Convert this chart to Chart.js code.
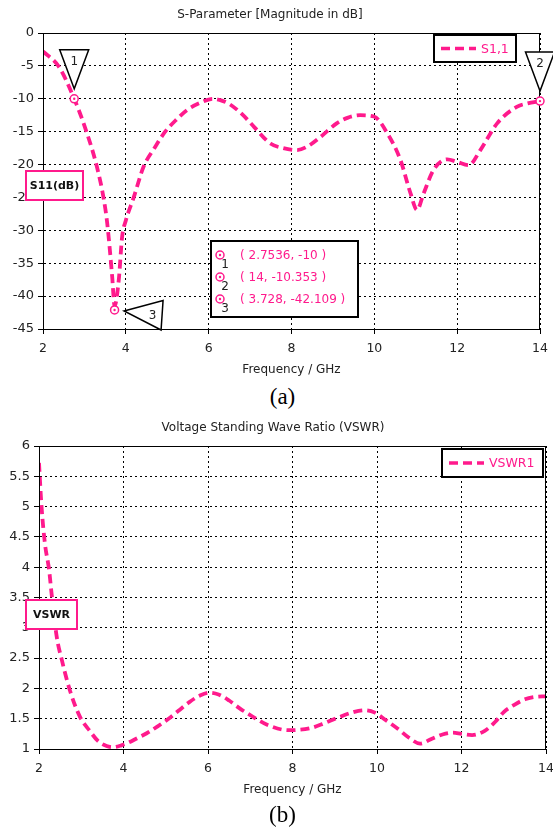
<!DOCTYPE html>
<html>
<head>
<meta charset="utf-8">
<script src="https://cdn.jsdelivr.net/npm/chart.js@4.4.0/dist/chart.umd.min.js"></script>
<style>
    body { margin: 0; background: #fff; width: 553px; height: 829px; position: relative; overflow: hidden; }
    canvas { position: absolute; left: 0; }
    #chartA { top: 0; }
    #chartB { top: 414px; }
    .cap { position: absolute; left: 0; width: 565px; text-align: center; font-family: "Liberation Serif", serif; font-size: 23px; color: #000; line-height: 1; }
</style>
</head>
<body>
<canvas id="chartA" width="553" height="382"></canvas>
<div class="cap" style="top:385px">(a)</div>
<canvas id="chartB" width="553" height="390"></canvas>
<div class="cap" style="top:803px">(b)</div>
<script>
// S11 curve (GHz, dB)
const s11Freq = [2.0, 2.38, 2.7536, 3.06, 3.3, 3.46, 3.55, 3.67, 3.728, 3.83, 3.91, 4.0, 4.19, 4.43, 4.7, 4.95, 5.2, 5.48, 5.8, 6.1, 6.28, 6.5, 6.8, 7.1, 7.49, 7.8, 8.13, 8.4, 8.7, 9.1, 9.35, 9.66, 9.99, 10.31, 10.63, 10.87, 11.03, 11.19, 11.43, 11.76, 12.0, 12.28, 12.56, 12.97, 13.45, 13.7, 14.0];
const s11Db = [-2.8, -5.1, -10, -15.2, -20.3, -25.0, -28.9, -37.0, -41.5, -37.5, -31, -28.5, -25, -20.3, -17.4, -15.0, -13.3, -11.7, -10.6, -10.0, -10.2, -10.8, -12.3, -14.3, -16.8, -17.5, -17.8, -17.2, -15.8, -13.7, -12.9, -12.5, -12.7, -15.2, -19.3, -24.3, -26.9, -24.4, -20.8, -19.2, -19.6, -20.1, -17.8, -13.7, -11.2, -10.7, -10.35];

// markers
const markerFreq = [2.7536, 14, 3.728];
const markerDb = [-10, -10.353, -42.109];
const markerLabels = ['1', '2', '3'];

// VSWR curve
const vswrFreq = [2.0, 2.06, 2.14, 2.24, 2.3, 2.42, 2.54, 2.73, 2.97, 3.2, 3.4, 3.6, 3.76, 3.95, 4.1, 4.3, 4.55, 4.8, 5.05, 5.3, 5.55, 5.8, 6.02, 6.25, 6.5, 6.75, 7.0, 7.4, 7.9, 8.4, 8.7, 9.05, 9.4, 9.7, 9.95, 10.2, 10.5, 10.75, 11.02, 11.3, 11.55, 11.8, 12.0, 12.25, 12.55, 12.8, 13.0, 13.25, 13.5, 13.75, 14.0];
const vswrVal = [5.72, 5.0, 4.39, 3.95, 3.55, 2.85, 2.47, 1.97, 1.53, 1.3, 1.13, 1.05, 1.03, 1.06, 1.1, 1.17, 1.26, 1.37, 1.49, 1.63, 1.77, 1.88, 1.93, 1.90, 1.80, 1.67, 1.56, 1.40, 1.31, 1.34, 1.41, 1.51, 1.60, 1.64, 1.60, 1.48, 1.33, 1.19, 1.09, 1.17, 1.24, 1.27, 1.25, 1.23, 1.30, 1.45, 1.61, 1.73, 1.82, 1.86, 1.87];

const xTicks = [2, 4, 6, 8, 10, 12, 14];

const PINK = '#ff1a8c';
const FONT = '"DejaVu Sans", sans-serif';

const toPoints = (xs, ys) => xs.map((x, i) => ({ x: x, y: ys[i] }));

// draws frame, legend box, y-label box and markers
const decoPlugin = {
    id: 'deco',
    afterDraw(chart, args, opts) {
        const ctx = chart.ctx;
        const a = chart.chartArea;
        ctx.save();

        // plot frame
        ctx.strokeStyle = '#000';
        ctx.lineWidth = 1;
        ctx.setLineDash([]);
        ctx.strokeRect(a.left + 0.5, a.top + 0.5, a.right - a.left - 1, a.bottom - a.top);

        // legend box
        const lg = opts.legend;
        const lx = a.right - lg.right - lg.w;
        const ly = a.top + lg.top;
        ctx.fillStyle = '#fff';
        ctx.fillRect(lx, ly, lg.w, lg.h);
        ctx.lineWidth = 2;
        ctx.strokeStyle = '#000';
        ctx.strokeRect(lx, ly, lg.w, lg.h);
        ctx.beginPath();
        ctx.setLineDash([9, 5]);
        ctx.lineWidth = 3.5;
        ctx.strokeStyle = PINK;
        ctx.moveTo(lx + 7, ly + lg.h / 2);
        ctx.lineTo(lx + lg.lineLen, ly + lg.h / 2);
        ctx.stroke();
        ctx.setLineDash([]);
        ctx.fillStyle = PINK;
        ctx.font = '12.5px ' + FONT;
        ctx.textBaseline = 'middle';
        ctx.textAlign = 'left';
        ctx.fillText(chart.data.datasets[0].label, lx + lg.lineLen + 5, ly + lg.h / 2 + 1);

        // y-label box
        const yl = opts.yLabel;
        const by = a.top + yl.top;
        ctx.fillStyle = '#fff';
        ctx.fillRect(26, by, yl.w, 29);
        ctx.lineWidth = 2;
        ctx.strokeStyle = PINK;
        ctx.strokeRect(26, by, yl.w, 29);
        ctx.fillStyle = '#111';
        ctx.font = 'bold 11px ' + FONT;
        ctx.textAlign = 'center';
        ctx.fillText(yl.text, 26 + yl.w / 2, by + 15);

        // markers
        if (opts.markers) {
            const xs = chart.scales.x;
            const ys = chart.scales.y;
            const mk = opts.markers;
            mk.x.forEach((fx, i) => {
                const px = xs.getPixelForValue(fx);
                const py = ys.getPixelForValue(mk.y[i]);
                // triangle flag
                ctx.beginPath();
                if (mk.dir[i] === 'down') {
                    ctx.moveTo(px, py - 10);
                    ctx.lineTo(px - 14.5, py - 49);
                    ctx.lineTo(px + 14.5, py - 49);
                } else {
                    ctx.moveTo(px + 9.5, py + 1);
                    ctx.lineTo(px + 48.5, py - 9.5);
                    ctx.lineTo(px + 46.5, py + 20);
                }
                ctx.closePath();
                ctx.fillStyle = '#fff';
                ctx.fill();
                ctx.lineWidth = 1.5;
                ctx.strokeStyle = '#000';
                ctx.stroke();
                ctx.fillStyle = '#222';
                ctx.font = '12px ' + FONT;
                ctx.textAlign = 'center';
                if (mk.dir[i] === 'down') ctx.fillText(mk.labels[i], px, py - 37);
                else ctx.fillText(mk.labels[i], px + 38, py + 6);
                drawMarkerDot(ctx, px, py);
            });

            // marker readout table
            const t = mk.table;
            const tx = a.left + t.left;
            const ty = a.top + t.top;
            ctx.fillStyle = '#fff';
            ctx.fillRect(tx, ty, t.w, t.h);
            ctx.lineWidth = 2;
            ctx.strokeStyle = '#000';
            ctx.strokeRect(tx, ty, t.w, t.h);
            mk.x.forEach((fx, i) => {
                const ry = ty + 14 + i * 22;
                drawMarkerDot(ctx, tx + 9, ry);
                ctx.fillStyle = '#222';
                ctx.font = '12px ' + FONT;
                ctx.textAlign = 'center';
                ctx.fillText(mk.labels[i], tx + 14, ry + 10);
                ctx.fillStyle = PINK;
                ctx.textAlign = 'left';
                ctx.fillText('( ' + fx + ', ' + mk.y[i] + ' )', tx + 29, ry + 1);
            });
        }
        ctx.restore();
    }
};

function drawMarkerDot(ctx, x, y) {
    ctx.beginPath();
    ctx.arc(x, y, 4, 0, Math.PI * 2);
    ctx.fillStyle = '#fff';
    ctx.fill();
    ctx.lineWidth = 1.5;
    ctx.strokeStyle = PINK;
    ctx.stroke();
    ctx.beginPath();
    ctx.arc(x, y, 1.2, 0, Math.PI * 2);
    ctx.fillStyle = PINK;
    ctx.fill();
}

function zeroPad(scale) {
    scale.paddingLeft = 0;
    scale.paddingRight = 0;
    scale.paddingTop = 0;
    scale.paddingBottom = 0;
}

function makeChart(id, cfg) {
    return new Chart(document.getElementById(id), {
        type: 'line',
        data: {
            datasets: [{
                label: cfg.label,
                data: cfg.points,
                borderColor: PINK,
                borderWidth: 3.8,
                borderDash: [9, 5],
                pointRadius: 0,
                fill: false,
                cubicInterpolationMode: 'monotone'
            }]
        },
        options: {
            responsive: false,
            animation: false,
            layout: { padding: { left: 0, right: cfg.padRight, top: 0, bottom: 0 } },
            plugins: {
                legend: { display: false },
                tooltip: { enabled: false },
                title: {
                    display: true,
                    text: cfg.title,
                    color: '#222',
                    font: { family: FONT, size: 12, weight: 'normal' },
                    padding: cfg.titlePad
                },
                deco: cfg.deco
            },
            scales: {
                x: {
                    type: 'linear',
                    min: 2, max: 14,
                    afterBuildTicks: s => { s.ticks = xTicks.map(v => ({ value: v })); },
                    afterFit: s => { s.height = cfg.xHeight; zeroPad(s); },
                    grid: { color: '#000', lineWidth: 1, tickLength: 5, tickColor: '#000', tickBorderDash: [] },
                    border: { display: true, color: '#000', dash: [2, 3] },
                    ticks: { color: '#222', font: { family: FONT, size: 12.5 }, padding: 7, maxRotation: 0 },
                    title: {
                        display: true,
                        text: 'Frequency / GHz',
                        color: '#222',
                        font: { family: FONT, size: 12 },
                        padding: { top: 0, bottom: cfg.xTitlePad }
                    }
                },
                y: {
                    type: 'linear',
                    min: cfg.yMin, max: cfg.yMax,
                    ticks: {
                        stepSize: cfg.yStep, color: '#222', font: { family: FONT, size: 13 }, padding: 4,
                        callback: v => String(v)
                    },
                    afterFit: s => { s.width = cfg.yWidth; zeroPad(s); },
                    grid: { color: '#000', lineWidth: 1, tickLength: 5, tickColor: '#000', tickBorderDash: [] },
                    border: { display: true, color: '#000', dash: [2, 3] }
                }
            }
        },
        plugins: [decoPlugin]
    });
}

makeChart('chartA', {
    label: 'S1,1',
    title: 'S-Parameter [Magnitude in dB]',
    points: toPoints(s11Freq, s11Db),
    yMin: -45, yMax: 0, yStep: 5,
    yWidth: 43, padRight: 13,
    titlePad: { top: 8, bottom: 10.6 },
    xHeight: 53, xTitlePad: 5,
    deco: {
        legend: { right: 24, top: 2, w: 82, h: 27, lineLen: 42 },
        yLabel: { text: 'S11(dB)', top: 138, w: 57 },
        markers: {
            x: markerFreq, y: markerDb, labels: markerLabels,
            dir: ['down', 'down', 'left'],
            table: { left: 168, top: 208, w: 147, h: 76 }
        }
    }
});

makeChart('chartB', {
    label: 'VSWR1',
    title: 'Voltage Standing Wave Ratio (VSWR)',
    points: toPoints(vswrFreq, vswrVal),
    yMin: 1, yMax: 6, yStep: 0.5,
    yWidth: 39, padRight: 7,
    titlePad: { top: 7, bottom: 10.6 },
    xHeight: 55, xTitlePad: 7,
    deco: {
        legend: { right: 3, top: 3, w: 101, h: 28, lineLen: 42 },
        yLabel: { text: 'VSWR', top: 154, w: 51 }
    }
});
</script>
</body>
</html>
